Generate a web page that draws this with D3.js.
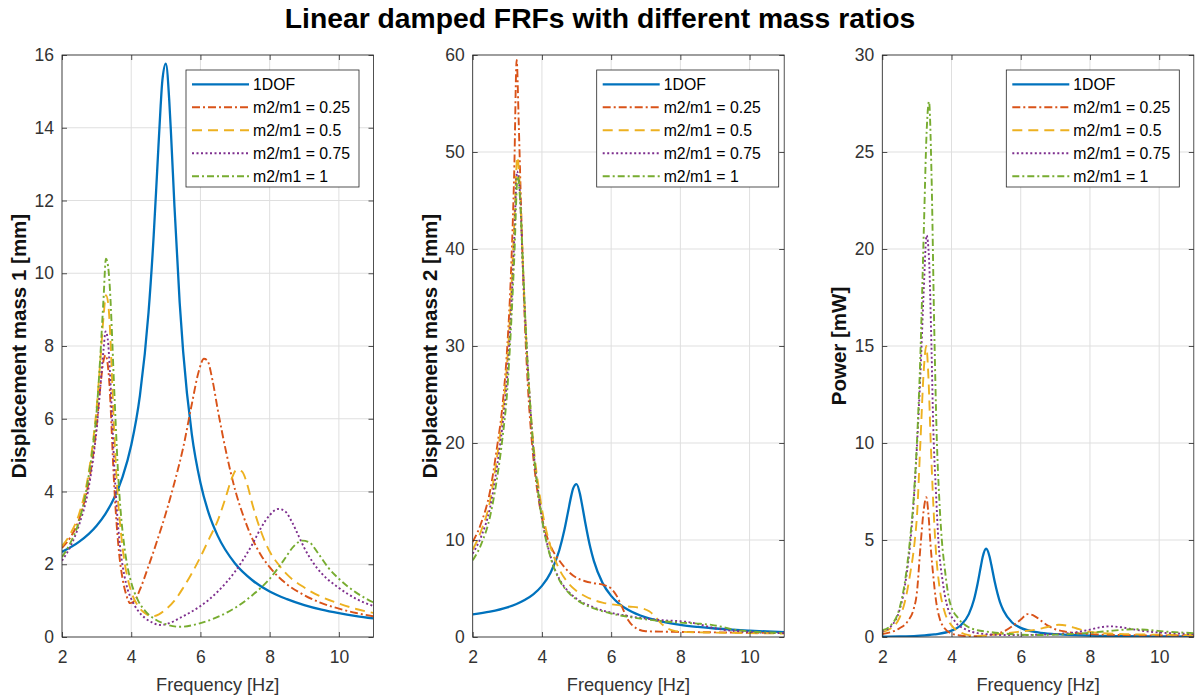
<!DOCTYPE html>
<html>
<head>
<meta charset="utf-8">
<script src="https://cdn.jsdelivr.net/npm/d3@7"></script>
<style>
  html, body { margin: 0; padding: 0; background: #fff; }
  svg { display: block; font-family: "Liberation Sans", Arial, Helvetica, sans-serif; }
</style>
</head>
<body>
<svg id="chart" width="1196" height="700"></svg>
<script>
// ---------------- DATA ----------------
const chartTitle = "Linear damped FRFs with different mass ratios";
const seriesNames = ["1DOF", "m2/m1 = 0.25", "m2/m1 = 0.5", "m2/m1 = 0.75", "m2/m1 = 1"];
const freqTicks = [2, 4, 6, 8, 10];
const yTicksDisp1 = [0, 2, 4, 6, 8, 10, 12, 14, 16];
const yTicksDisp2 = [0, 10, 20, 30, 40, 50, 60];
const yTicksPower = [0, 5, 10, 15, 20, 25, 30];

// 1DOF displacement [Hz, mm]
const disp1DOF = [[2,2.34],[2.5,2.62],[3,3.06],[3.25,3.38],[3.5,3.81],[3.75,4.40],[4,5.27],[4.25,6.63],[4.5,8.92],[4.65,11.05],[4.75,12.82],[4.85,14.6],[4.9,15.30],[5,15.76],[5.1,14.73],[5.15,13.83],[5.25,11.83],[5.4,9.19],[5.5,7.85],[5.75,5.58],[6,4.24],[6.25,3.37],[6.5,2.78],[7,2.02],[7.5,1.56],[8,1.25],[8.5,1.04],[9,0.875],[9.5,0.75],[10,0.654],[10.5,0.576],[11,0.512]];
// 1DOF power [Hz, mW]
const power1DOF = [[2,0.016],[2.5,0.031],[3,0.062],[3.5,0.13],[4,0.326],[4.25,0.58],[4.5,1.18],[4.65,1.93],[4.75,2.72],[4.85,3.67],[4.9,4.12],[5,4.55],[5.1,4.14],[5.15,3.72],[5.25,2.83],[5.4,1.80],[5.5,1.37],[5.75,0.75],[6,0.47],[6.5,0.24],[7,0.147],[8,0.073],[9,0.045],[10,0.031],[11,0.023]];

// Displacement of mass 1 [Hz, mm]
const disp1_025 = [[2,2.45],[2.25,2.75],[2.5,3.25],[2.75,4.15],[2.9,5.0],[3.0,5.8],[3.1,6.8],[3.2,7.6],[3.26,7.75],[3.32,7.5],[3.38,6.8],[3.43,5.8],[3.48,4.7],[3.55,3.5],[3.65,2.3],[3.75,1.6],[3.85,1.18],[3.97,0.93],[4.1,1.0],[4.25,1.3],[4.5,1.95],[4.75,2.65],[5.0,3.4],[5.25,4.25],[5.5,5.2],[5.75,6.4],[5.95,7.3],[6.1,7.65],[6.2,7.6],[6.35,7.05],[6.5,6.25],[6.75,5.05],[7.0,4.05],[7.25,3.3],[7.5,2.7],[7.75,2.25],[8.0,1.92],[8.5,1.45],[9.0,1.15],[9.5,0.93],[10,0.78],[10.5,0.66],[11,0.57]];
const disp1_05 = [[2,2.5],[2.25,2.85],[2.5,3.4],[2.75,4.4],[2.9,5.4],[3.0,6.3],[3.1,7.5],[3.2,8.8],[3.27,9.4],[3.33,9.2],[3.4,8.2],[3.45,7.0],[3.5,5.8],[3.6,4.0],[3.7,2.9],[3.8,2.1],[3.9,1.6],[4.0,1.25],[4.2,0.85],[4.4,0.65],[4.62,0.57],[4.8,0.62],[5.0,0.76],[5.25,1.0],[5.5,1.35],[5.75,1.75],[6.0,2.2],[6.25,2.7],[6.5,3.2],[6.75,3.9],[6.9,4.35],[7.05,4.6],[7.2,4.55],[7.35,4.2],[7.5,3.65],[7.75,2.9],[8.0,2.35],[8.25,2.0],[8.5,1.72],[9.0,1.36],[9.5,1.1],[10,0.92],[10.5,0.77],[11,0.66]];
const disp1_075 = [[2,2.1],[2.25,2.5],[2.5,3.1],[2.75,4.0],[2.9,4.9],[3.0,5.7],[3.1,6.8],[3.2,7.9],[3.26,8.4],[3.32,8.2],[3.4,7.0],[3.45,6.0],[3.5,4.9],[3.6,3.3],[3.7,2.3],[3.8,1.7],[3.9,1.3],[4.0,1.05],[4.2,0.72],[4.4,0.52],[4.6,0.4],[4.85,0.33],[5.1,0.38],[5.4,0.52],[5.75,0.7],[6.0,0.85],[6.5,1.25],[7.0,1.8],[7.25,2.15],[7.5,2.55],[7.75,3.0],[8.0,3.35],[8.25,3.52],[8.45,3.45],[8.65,3.15],[8.85,2.75],[9.0,2.45],[9.25,2.05],[9.5,1.75],[10,1.35],[10.5,1.05],[11,0.85]];
const disp1_1 = [[2,2.2],[2.25,2.6],[2.5,3.2],[2.75,4.3],[2.9,5.3],[3.0,6.2],[3.1,7.6],[3.2,9.3],[3.27,10.4],[3.33,10.2],[3.4,9.3],[3.45,8.2],[3.5,7.0],[3.55,5.9],[3.62,4.5],[3.7,3.4],[3.8,2.5],[3.9,1.9],[4.0,1.5],[4.2,1.0],[4.4,0.72],[4.7,0.48],[5.0,0.35],[5.4,0.28],[5.75,0.32],[6.0,0.38],[6.5,0.55],[7.0,0.8],[7.5,1.15],[8.0,1.6],[8.4,2.1],[8.7,2.5],[8.95,2.65],[9.15,2.6],[9.4,2.3],[9.7,1.9],[10,1.6],[10.5,1.22],[11,0.95]];

// Displacement of mass 2 [Hz, mm]
const disp2_025 = [[2,9.8],[2.25,11.8],[2.5,15],[2.7,19.5],[2.85,23.5],[3.0,30],[3.1,37],[3.2,48],[3.27,59.5],[3.33,53],[3.4,44],[3.5,33],[3.6,25.5],[3.7,20.5],[3.85,15.5],[4.0,12.3],[4.15,10.3],[4.3,9.0],[4.5,7.9],[4.75,6.8],[5.0,6.1],[5.25,5.75],[5.5,5.55],[5.8,5.35],[6.0,5.0],[6.15,4.3],[6.3,3.2],[6.5,1.7],[6.75,0.85],[7.0,0.6],[7.5,0.55],[8.0,0.52],[9,0.48],[10,0.44],[11,0.4]];
const disp2_05 = [[2,9.0],[2.25,11.0],[2.5,14.0],[2.7,18.5],[2.85,22.5],[3.0,28.5],[3.1,34.5],[3.2,42.5],[3.29,49.5],[3.36,46.5],[3.45,38.5],[3.55,30.5],[3.65,24.5],[3.75,20],[3.9,15.5],[4.0,13.2],[4.25,9.3],[4.5,7.0],[4.75,5.6],[5.0,4.75],[5.25,4.2],[5.5,3.8],[5.75,3.55],[6.0,3.38],[6.5,3.15],[6.9,2.95],[7.1,2.65],[7.25,2.2],[7.4,1.55],[7.6,0.95],[7.8,0.65],[8.0,0.55],[9,0.45],[10,0.4],[11,0.36]];
const disp2_075 = [[2,8.6],[2.25,10.4],[2.5,13.3],[2.7,17.5],[2.85,21.5],[3.0,27],[3.1,33],[3.2,41],[3.28,48],[3.36,46],[3.45,38],[3.55,30.5],[3.65,24.5],[3.75,19.5],[3.9,14.8],[4.0,12.3],[4.25,8.3],[4.5,6.0],[4.75,4.75],[5.0,3.95],[5.5,3.05],[6.0,2.5],[6.5,2.15],[7.0,1.9],[7.5,1.72],[8.0,1.62],[8.3,1.5],[8.6,1.25],[9.0,0.9],[9.5,0.65],[10,0.52],[11,0.4]];
const disp2_1 = [[2,7.9],[2.25,9.6],[2.5,12.4],[2.7,16.3],[2.85,20.2],[3.0,25.5],[3.1,31.5],[3.2,39],[3.3,47.5],[3.37,45],[3.45,38.5],[3.55,30.5],[3.65,24.5],[3.75,19.5],[3.9,14.7],[4.0,12.2],[4.25,8.2],[4.5,5.9],[4.75,4.65],[5.0,3.85],[5.5,2.95],[6.0,2.42],[6.5,2.08],[7.0,1.82],[7.5,1.62],[8.0,1.48],[8.5,1.38],[8.9,1.25],[9.2,1.05],[9.5,0.8],[10,0.58],[11,0.42]];

// Power [Hz, mW]
const power_025 = [[2,0.15],[2.25,0.25],[2.5,0.45],[2.75,0.85],[2.9,1.4],[3.0,2.3],[3.1,4.6],[3.2,6.6],[3.27,7.2],[3.33,6.4],[3.4,4.6],[3.47,3.2],[3.55,1.9],[3.65,1.0],[3.8,0.45],[4.0,0.18],[4.25,0.08],[4.5,0.04],[4.75,0.04],[5.0,0.08],[5.25,0.15],[5.5,0.28],[5.75,0.55],[6.0,0.9],[6.2,1.18],[6.4,1.08],[6.6,0.82],[6.8,0.57],[7.0,0.4],[7.3,0.27],[7.6,0.2],[8,0.15],[9,0.1],[10,0.08],[11,0.07]];
const power_05 = [[2,0.25],[2.25,0.45],[2.5,1.0],[2.65,1.8],[2.8,3.2],[2.94,5.0],[3.0,6.2],[3.1,10],[3.2,13.8],[3.27,15],[3.33,13.5],[3.4,10],[3.47,7],[3.55,4.4],[3.65,2.6],[3.8,1.3],[4.0,0.6],[4.25,0.25],[4.5,0.1],[4.7,0.06],[5.0,0.08],[5.5,0.18],[6.0,0.28],[6.5,0.4],[6.8,0.53],[7.1,0.63],[7.35,0.58],[7.6,0.45],[7.9,0.3],[8.2,0.22],[9,0.15],[10,0.12],[11,0.1]];
const power_075 = [[2,0.3],[2.25,0.55],[2.5,1.4],[2.65,2.6],[2.8,4.7],[2.9,6.8],[3.0,9.8],[3.1,13.5],[3.2,18],[3.28,20.7],[3.35,19.5],[3.42,15],[3.47,11],[3.55,7.5],[3.62,5.0],[3.75,2.8],[3.86,1.7],[4.1,0.8],[4.4,0.4],[4.75,0.2],[5.0,0.15],[5.5,0.1],[6.0,0.1],[6.5,0.12],[7.0,0.15],[7.5,0.22],[8.0,0.38],[8.3,0.5],[8.6,0.55],[8.9,0.5],[9.3,0.38],[9.7,0.28],[10.3,0.2],[11,0.15]];
const power_1 = [[2,0.35],[2.25,0.6],[2.5,1.5],[2.65,2.8],[2.8,5.0],[2.9,7.0],[3.0,10],[3.1,14.5],[3.2,21],[3.28,26],[3.35,27.6],[3.42,24],[3.5,16],[3.57,10.5],[3.65,7.0],[3.72,5.0],[3.8,3.6],[3.95,1.8],[4.2,0.95],[4.45,0.55],[4.75,0.35],[5.0,0.28],[5.5,0.18],[6.0,0.12],[6.5,0.1],[7.0,0.12],[7.5,0.16],[8.0,0.22],[8.5,0.3],[9.0,0.38],[9.3,0.4],[9.7,0.36],[10.2,0.28],[11,0.2]];

// ---------------- STYLE ----------------
const colors = ["#0072BD", "#D95319", "#EDB120", "#7E2F8E", "#77AC30"];
const dashes = [null, "8,3,2,3", "10,6", "2,2.5", "7,3,2,3"];
const widths = [2.3, 1.9, 1.9, 1.9, 1.9];

const panels = [
  { left: 62,    yMax: 16, yTicks: yTicksDisp1, ylabel: "Displacement mass 1 [mm]", legendW: 173,
    series: [disp1DOF, disp1_025, disp1_05, disp1_075, disp1_1] },
  { left: 472.7, yMax: 60, yTicks: yTicksDisp2, ylabel: "Displacement mass 2 [mm]", legendW: 182,
    series: [disp1DOF, disp2_025, disp2_05, disp2_075, disp2_1] },
  { left: 882.3, yMax: 30, yTicks: yTicksPower, ylabel: "Power [mW]", legendW: 173,
    series: [power1DOF, power_025, power_05, power_075, power_1] }
];

const plotTop = 55, plotBottom = 637, pw = 311.5;
const axisColor = "#262626";
const fontFam = '"Liberation Sans", Arial, Helvetica, sans-serif';
const svg = d3.select("#chart");

svg.append("text")
  .attr("x", 600).attr("y", 28)
  .attr("text-anchor", "middle")
  .attr("font-size", 28.3).attr("font-weight", "bold")
  .attr("fill", "#000")
  .text(chartTitle);

panels.forEach((p, pi) => {
  const x = d3.scaleLinear().domain([2, 11]).range([p.left, p.left + pw]);
  const y = d3.scaleLinear().domain([0, p.yMax]).range([plotBottom, plotTop]);
  const g = svg.append("g");

  g.selectAll(".gx").data(freqTicks).enter().append("line")
    .attr("x1", d => x(d)).attr("x2", d => x(d))
    .attr("y1", plotTop).attr("y2", plotBottom)
    .attr("stroke", "#dfdfdf").attr("stroke-width", 1);
  g.selectAll(".gy").data(p.yTicks).enter().append("line")
    .attr("x1", p.left).attr("x2", p.left + pw)
    .attr("y1", d => y(d)).attr("y2", d => y(d))
    .attr("stroke", "#dfdfdf").attr("stroke-width", 1);

  const cid = "clip" + pi;
  svg.append("clipPath").attr("id", cid).append("rect")
    .attr("x", p.left).attr("y", plotTop).attr("width", pw).attr("height", plotBottom - plotTop);

  const line = d3.line().x(d => x(d[0])).y(d => y(d[1])).curve(d3.curveMonotoneX);
  const lg = g.append("g").attr("clip-path", `url(#${cid})`);
  p.series.forEach((s, si) => {
    lg.append("path").datum(s)
      .attr("d", line)
      .attr("fill", "none")
      .attr("stroke", colors[si])
      .attr("stroke-width", widths[si])
      .attr("stroke-dasharray", dashes[si])
      .attr("stroke-linejoin", "round");
  });

  const axB = d3.axisBottom(x).tickValues(freqTicks).tickSizeInner(-5).tickSizeOuter(0).tickPadding(14);
  const axT = d3.axisTop(x).tickValues(freqTicks).tickSizeInner(-5).tickSizeOuter(0).tickFormat("");
  const axL = d3.axisLeft(y).tickValues(p.yTicks).tickSizeInner(-5).tickSizeOuter(0).tickPadding(8);
  const axR = d3.axisRight(y).tickValues(p.yTicks).tickSizeInner(-5).tickSizeOuter(0).tickFormat("");

  const styleAxis = sel => {
    sel.select(".domain").remove();
    sel.selectAll("line").attr("stroke", axisColor).attr("stroke-width", 0.8);
    sel.selectAll("text").attr("fill", "#333").attr("font-size", 17.5).attr("font-family", fontFam);
  };
  g.append("g").attr("transform", `translate(0,${plotBottom})`).call(axB).call(styleAxis);
  g.append("g").attr("transform", `translate(0,${plotTop})`).call(axT).call(styleAxis);
  g.append("g").attr("transform", `translate(${p.left},0)`).call(axL).call(styleAxis);
  g.append("g").attr("transform", `translate(${p.left + pw},0)`).call(axR).call(styleAxis);

  g.append("rect")
    .attr("x", p.left).attr("y", plotTop).attr("width", pw).attr("height", plotBottom - plotTop)
    .attr("fill", "none").attr("stroke", axisColor).attr("stroke-width", 0.8);

  g.append("text")
    .attr("x", p.left + pw / 2).attr("y", 691)
    .attr("text-anchor", "middle").attr("font-size", 18.2).attr("fill", "#333")
    .text("Frequency [Hz]");
  g.append("text")
    .attr("transform", `translate(${p.left - 36},${(plotTop + plotBottom) / 2}) rotate(-90)`)
    .attr("text-anchor", "middle").attr("font-size", 20.5).attr("font-weight", "bold").attr("fill", "#111")
    .text(p.ylabel);

  const lx = p.left + 124, ly = 70;
  const leg = g.append("g").attr("transform", `translate(${lx},${ly})`);
  leg.append("rect").attr("width", p.legendW).attr("height", 117)
    .attr("fill", "#fff").attr("stroke", axisColor).attr("stroke-width", 0.8);
  seriesNames.forEach((name, si) => {
    const cy = 14.3 + si * 23;
    leg.append("line")
      .attr("x1", 6).attr("x2", 63).attr("y1", cy).attr("y2", cy)
      .attr("stroke", colors[si]).attr("stroke-width", widths[si])
      .attr("stroke-dasharray", dashes[si]);
    leg.append("text")
      .attr("x", 67).attr("y", cy + 5.5)
      .attr("font-size", 15.8).attr("fill", "#000")
      .text(name);
  });
});
</script>
</body>
</html>
